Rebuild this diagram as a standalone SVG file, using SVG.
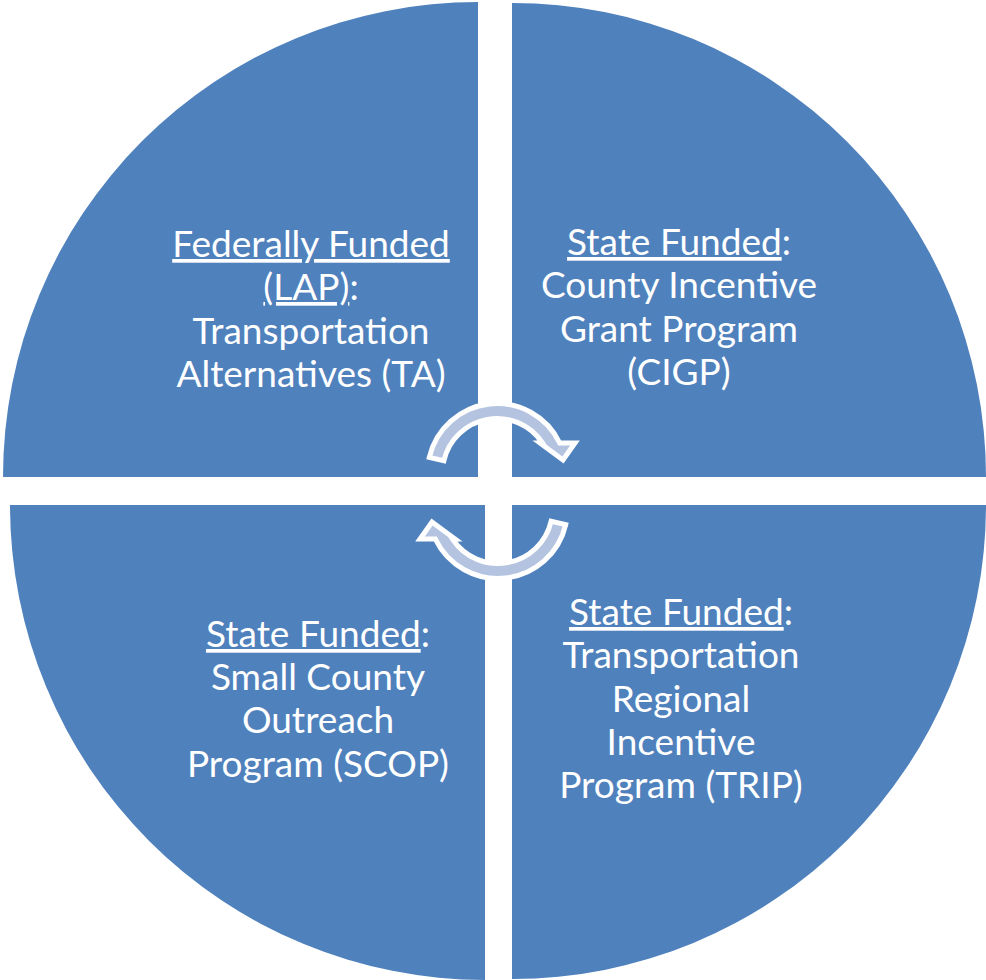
<svg xmlns="http://www.w3.org/2000/svg" xmlns:xlink="http://www.w3.org/1999/xlink" width="986" height="980" viewBox="0 0 986 980">
<style>
.sector{fill:#4F81BD;}
.lbl{font-family:Lato,"Liberation Sans",sans-serif;font-size:37px;fill:#FFFFFF;text-anchor:middle;}
.u{text-decoration:underline;}
.arr{fill:#B4C4E0;stroke:#FFFFFF;stroke-width:5;stroke-linejoin:miter;}
</style>
<defs>
<path id="cyc" d="M429.3,457.4 A69.5,69.5 0 0 1 559.7,443 L575,443 L563,460 L540,443 L542.5,443 A54.5,54.5 0 0 0 443.9,460.7 Z"/>
</defs>
<rect width="986" height="980" fill="#FFFFFF"/>
<g id="node-ta">
<path class="sector" d="M478,477 L3,477 A475,475 0 0 1 478,2 Z"/>
<text class="lbl" x="311" y="257"><tspan class="u">Federally Funded</tspan></text>
<text class="lbl" x="311" y="300"><tspan class="u">(LAP)</tspan>:</text>
<text class="lbl" x="311" y="344">Transportation</text>
<text class="lbl" x="311" y="387">Alternatives (TA)</text>
</g>
<g id="node-cigp">
<path class="sector" d="M512,477 L512,3 A474,474 0 0 1 986,477 Z"/>
<text class="lbl" x="679" y="255"><tspan class="u">State Funded</tspan>:</text>
<text class="lbl" x="679" y="298">County Incentive</text>
<text class="lbl" x="679" y="342">Grant Program</text>
<text class="lbl" x="679" y="385">(CIGP)</text>
</g>
<g id="node-scop">
<path class="sector" d="M485,505 L485,980 A475,475 0 0 1 10,505 Z"/>
<text class="lbl" x="318" y="647"><tspan class="u">State Funded</tspan>:</text>
<text class="lbl" x="318" y="690">Small County</text>
<text class="lbl" x="318" y="733">Outreach</text>
<text class="lbl" x="318" y="777">Program (SCOP)</text>
</g>
<g id="node-trip">
<path class="sector" d="M512,505 L986,505 A474,474 0 0 1 512,979 Z"/>
<text class="lbl" x="681" y="625"><tspan class="u">State Funded</tspan>:</text>
<text class="lbl" x="681" y="668">Transportation</text>
<text class="lbl" x="681" y="712">Regional</text>
<text class="lbl" x="681" y="755">Incentive</text>
<text class="lbl" x="681" y="798">Program (TRIP)</text>
</g>
<g id="connectors">
<use xlink:href="#cyc" class="arr"/>
<use xlink:href="#cyc" class="arr" transform="rotate(180 497.5 491)"/>
</g>
</svg>
